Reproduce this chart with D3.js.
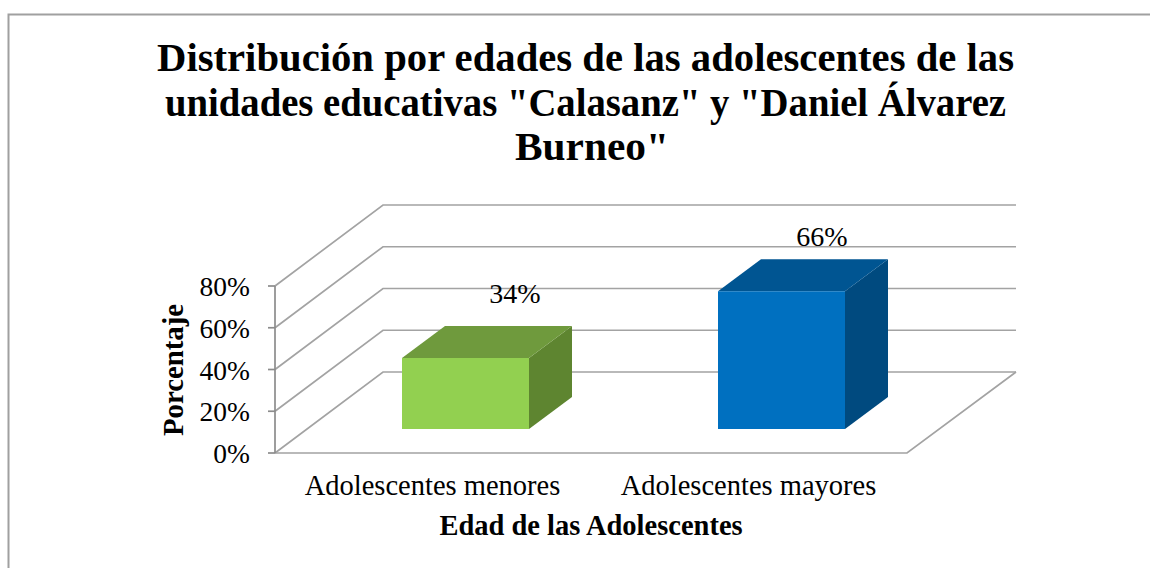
<!DOCTYPE html>
<html>
<head>
<meta charset="utf-8">
<script src="https://cdn.jsdelivr.net/npm/d3@7"></script>
<style>
html, body { margin: 0; padding: 0; background: #fff; }
svg { display: block; }
text { font-family: "Liberation Serif", serif; fill: #000; }
</style>
</head>
<body>
<svg id="chart" width="1150" height="568"></svg>
<script>
// Chart content
const titleLines = ['Distribución por edades de las adolescentes de las', 'unidades educativas "Calasanz" y "Daniel Álvarez', 'Burneo"'];
const categories = ['Adolescentes menores', 'Adolescentes mayores'];
const values = [34, 66];
const valueLabels = ['34%', '66%'];
const yTicks = [0, 20, 40, 60, 80];
const yAxisTitle = 'Porcentaje';
const xAxisTitle = 'Edad de las Adolescentes';
const faceColors = [
  { front: '#92D050', top: '#6F9A3D', side: '#5E8530' },
  { front: '#0070C0', top: '#005592', side: '#004A7F' }
];

const svg = d3.select('#chart');

// Outer frame: left and top edges only
svg.append('path')
  .attr('d', 'M8.5,568V14.5H1150')
  .attr('fill', 'none').attr('stroke', '#A0A0A0').attr('stroke-width', 2);

// Front plane of the 3D box, and the shift towards the back wall
const y = d3.scaleLinear().domain([0, 80]).range([453, 286]);
const x = d3.scaleBand().domain(categories).range([275, 907]);
const depth = { dx: 108, dy: -81 };
const barDepth = { dx: 43, dy: -32 };
const barBaseLift = 24;
const barWidth = 127;
const barShift = 32.5;

// Walls: gridlines run along the side wall and then across the back wall
const grid = svg.append('g').attr('fill', 'none').attr('stroke', '#A3A3A3').attr('stroke-width', 1.7);
yTicks.forEach(t => {
  grid.append('path').attr('d', d3.line()([
    [x.range()[0], y(t)],
    [x.range()[0] + depth.dx, y(t) + depth.dy],
    [x.range()[1] + depth.dx + 1, y(t) + depth.dy]
  ]));
});
// Floor: front edge and right edge
grid.append('path').attr('d', d3.line()([
  [x.range()[0], y(0)],
  [x.range()[1], y(0)],
  [x.range()[1] + depth.dx + 1, y(0) + depth.dy]
]));

// Value axis with outward ticks
const axis = svg.append('g').attr('stroke', '#8C8C8C').attr('stroke-width', 1.7).attr('fill', 'none');
axis.append('path').attr('d', d3.line()([[x.range()[0], y(80)], [x.range()[0], y(0)]]));
yTicks.forEach(t => {
  axis.append('path').attr('d', d3.line()([[x.range()[0] - 7, y(t)], [x.range()[0], y(t)]]));
});
svg.append('g').selectAll('text').data(yTicks).join('text')
  .attr('x', 250).attr('y', d => y(d) + 10)
  .attr('text-anchor', 'end').attr('font-size', 27.5)
  .text(d => d + '%');

// Boxes, each drawn from its value
const baseY = y(0) - barBaseLift;
const barHeight = v => y(0) - y(v);
const barLeft = c => x(c) + x.bandwidth() / 2 - barWidth / 2 + barShift;
const labelNudge = [{ dx: 113, dy: -55 }, { dx: 104, dy: -45 }];
const poly = pts => d3.line()(pts) + 'Z';

categories.forEach((c, i) => {
  const g = svg.append('g');
  const l = barLeft(c), r = l + barWidth, b = baseY, t = baseY - barHeight(values[i]);
  const { dx, dy } = barDepth;
  g.append('path').attr('fill', faceColors[i].side).attr('d', poly([[r, b], [r + dx, b + dy], [r + dx, t + dy], [r, t]]));
  g.append('path').attr('fill', faceColors[i].top).attr('d', poly([[l, t], [l + dx, t + dy], [r + dx, t + dy], [r, t]]));
  g.append('path').attr('fill', faceColors[i].front).attr('d', poly([[l, b], [r, b], [r, t], [l, t]]));
  g.append('text')
    .attr('x', l + labelNudge[i].dx).attr('y', t + labelNudge[i].dy)
    .attr('text-anchor', 'middle').attr('font-size', 28)
    .text(valueLabels[i]);
});

// Category labels
svg.append('g').selectAll('text').data(categories).join('text')
  .attr('x', d => x(d) + x.bandwidth() / 2 - 0.5).attr('y', 495)
  .attr('text-anchor', 'middle').attr('font-size', 28.5)
  .text(d => d);

// Titles
svg.append('text').attr('x', 591).attr('y', 535)
  .attr('text-anchor', 'middle').attr('font-size', 28.5).attr('font-weight', 'bold')
  .text(xAxisTitle);
svg.append('text').attr('transform', 'translate(183,370) rotate(-90)')
  .attr('text-anchor', 'middle').attr('font-size', 28.8).attr('font-weight', 'bold')
  .text(yAxisTitle);

// Each title line is fitted to its own measure
const titleWidths = [857, 841, 154];
const titleCentres = [585.5, 585.5, 592];
svg.append('g').selectAll('text').data(titleLines).join('text')
  .attr('x', (d, i) => titleCentres[i]).attr('y', (d, i) => 71 + i * 44.5)
  .attr('text-anchor', 'middle').attr('font-size', 40).attr('font-weight', 'bold')
  .attr('textLength', (d, i) => titleWidths[i]).attr('lengthAdjust', 'spacingAndGlyphs')
  .text(d => d);
</script>
</body>
</html>
